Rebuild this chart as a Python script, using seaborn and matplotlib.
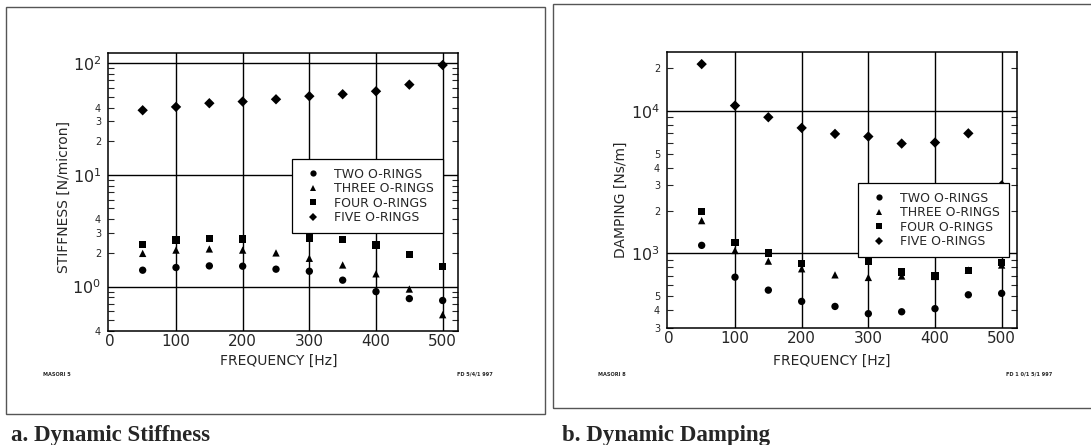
import numpy as np
import pandas as pd
import matplotlib
matplotlib.use("Agg")
import matplotlib.pyplot as plt
from matplotlib.ticker import (FixedLocator, FuncFormatter, LogFormatterMathtext,
                               LogLocator)
from matplotlib.patches import Rectangle
import seaborn as sns

# ---- measured data -------------------------------------------------------
freq = [50, 100, 150, 200, 250, 300, 350, 400, 450, 500]
series = ["TWO O-RINGS", "THREE O-RINGS", "FOUR O-RINGS", "FIVE O-RINGS"]

# dynamic stiffness [N/micron]
stiff_two = [1.40, 1.48, 1.53, 1.52, 1.43, 1.37, 1.14, 0.90, 0.78, 0.75]
stiff_three = [1.98, 2.12, 2.17, 2.12, 2.00, 1.79, 1.56, 1.30, 0.95, 0.56]
stiff_four = [2.38, 2.61, 2.68, 2.66, np.nan, 2.72, 2.64, 2.35, 1.94, 1.52]
stiff_five = [37.8, 40.5, 43.7, 45.2, 47.4, 50.5, 52.6, 55.9, 64.1, 96.0]

# dynamic damping [Ns/m]
damp_two = [1140, 682, 553, 461, 425, 378, 390, 410, 513, 525]
damp_three = [1700, 1050, 884, 781, 708, 679, 695, 690, 765, 830]
damp_four = [1960, 1200, 1005, 851, np.nan, 880, 740, 693, 760, 860]
damp_five = [21300, 10900, 9030, 7600, 6900, 6610, 5900, 6000, 6960, 3000]

x_ticks = [0, 100, 200, 300, 400, 500]
x_grid = [100, 200, 300, 400, 500]

stiff_decades = [1, 10, 100]
stiff_minor_labeled = [0.4, 2, 3, 4, 20, 30, 40]
damp_decades = [1000, 10000]
damp_minor_labeled = [300, 400, 500, 2000, 3000, 4000, 5000, 20000]

# ---- styling -------------------------------------------------------------
sns.set_style("white")
plt.rcParams["font.family"] = ["DejaVu Sans"]
plt.rcParams["mathtext.fontset"] = "dejavusans"

markers = {"TWO O-RINGS": ("o", 28), "THREE O-RINGS": ("^", 28),
           "FOUR O-RINGS": ("s", 28), "FIVE O-RINGS": ("D", 28)}

fig = plt.figure(figsize=(10.91, 4.45), dpi=100)
W, H = 1091.0, 445.0


def long_frame(values):
    rows = []
    for name, vals in zip(series, values):
        for f, v in zip(freq, vals):
            rows.append({"freq": f, "value": v, "config": name})
    return pd.DataFrame(rows).dropna()


def panel(rect, df, ylim, decades, minor_labeled, ylabel, ylab_pos, xlab_pos,
          leg_anchor):
    ax = fig.add_axes(rect)
    ax.set_yscale("log")
    ax.set_xlim(-2, 523)
    ax.set_ylim(*ylim)

    # grid: decades horizontally, every 100 Hz vertically
    for d in decades:
        ax.axhline(d, color="black", lw=1.0, zorder=1)
    for g in x_grid:
        ax.axvline(g, color="black", lw=1.0, zorder=1)

    handles = []
    for name in series:
        m, s = markers[name]
        sub = df[df["config"] == name]
        sns.scatterplot(data=sub, x="freq", y="value", marker=m, s=s,
                        color="black", edgecolor="none", linewidth=0,
                        ax=ax, zorder=3, label=name, legend=False)
        handles.append(plt.Line2D([], [], ls="none", marker=m, color="black",
                                  markersize=np.sqrt(s) * 0.85,
                                  markeredgewidth=0))

    ax.set_xticks(x_ticks)
    ax.set_xticklabels([str(t) for t in x_ticks], fontsize=11)
    ax.tick_params(axis="x", length=0, pad=2.5)

    ax.yaxis.set_major_locator(FixedLocator(decades))
    ax.yaxis.set_major_formatter(LogFormatterMathtext())
    ax.yaxis.set_minor_locator(LogLocator(base=10, subs=np.arange(2, 10)))
    lab = set(np.round(minor_labeled, 6))

    def minor_fmt(v, pos):
        if np.round(v, 6) in lab:
            return str(int(round(v / 10 ** np.floor(np.log10(v) + 1e-9))))
        return ""

    ax.yaxis.set_minor_formatter(FuncFormatter(minor_fmt))
    ax.tick_params(axis="y", which="major", length=0, labelsize=11.5, pad=5)
    ax.tick_params(axis="y", which="minor", direction="in", length=4,
                   width=0.8, left=True, right=True, labelsize=7, pad=5)

    for sp in ax.spines.values():
        sp.set_visible(True)
        sp.set_color("black")
        sp.set_linewidth(1.1)

    ax.set_xlabel("FREQUENCY [Hz]", fontsize=10, va="top")
    ax.xaxis.set_label_coords(*xlab_pos)
    ax.set_ylabel(ylabel, fontsize=10)
    ax.yaxis.set_label_coords(*ylab_pos)

    leg = ax.legend(handles, series, loc="upper left",
                    bbox_to_anchor=leg_anchor, borderaxespad=0,
                    fontsize=9, frameon=True, fancybox=False,
                    edgecolor="black", framealpha=1, borderpad=0.7,
                    handlelength=2.0, handletextpad=0.65, labelspacing=0.12)
    leg.get_frame().set_linewidth(0.9)
    leg.set_zorder(5)
    return ax


df_stiff = long_frame([stiff_two, stiff_three, stiff_four, stiff_five])
df_damp = long_frame([damp_two, damp_three, damp_four, damp_five])

panel([108 / W, 1 - 331 / H, 350 / W, 278 / H], df_stiff, (0.4, 123),
      stiff_decades, stiff_minor_labeled, "STIFFNESS [N/micron]",
      (-0.105, 0.482), (0.487, -0.083), (0.526, 0.619))
panel([667 / W, 1 - 328 / H, 350 / W, 276 / H], df_damp, (300, 25900),
      damp_decades, damp_minor_labeled, "DAMPING [Ns/m]",
      (-0.112, 0.464), (0.470, -0.094), (0.546, 0.526))

# panel frames
for x0, y0, x1, y1 in [(5.5, 6.5, 545, 414), (553, 4, 1095, 408)]:
    fig.patches.append(Rectangle((x0 / W, 1 - y1 / H), (x1 - x0) / W,
                                 (y1 - y0) / H, transform=fig.transFigure,
                                 fill=False, edgecolor="#555555", lw=1.0))

# small plot identifiers
small = dict(fontsize=3.6, fontweight="bold", va="center")
fig.text(43 / W, 1 - 375 / H, "MASORI 5", ha="left", **small)
fig.text(493 / W, 1 - 374 / H, "FD 5/4/1 997", ha="right", **small)
fig.text(598 / W, 1 - 375 / H, "MASORI 8", ha="left", **small)
fig.text(1052 / W, 1 - 374 / H, "FD 1 0/1 5/1 997", ha="right", **small)

# captions
cap = dict(fontsize=16.5, fontweight="bold", family="Liberation Serif",
           va="baseline", ha="left")
fig.text(11 / W, 1 - 441 / H, "a. Dynamic Stiffness", **cap)
fig.text(562 / W, 1 - 441 / H, "b. Dynamic Damping", **cap)

fig.savefig("out.png", dpi=100, facecolor="white")
